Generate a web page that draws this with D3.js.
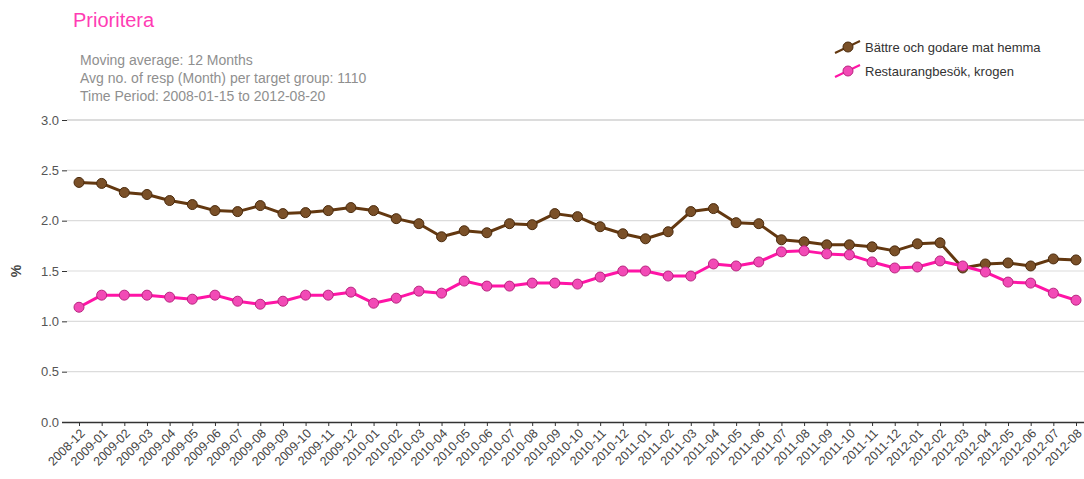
<!DOCTYPE html>
<html><head><meta charset="utf-8">
<script src="https://cdn.jsdelivr.net/npm/d3@7"></script>
<style>
html,body{margin:0;padding:0;background:#fff;}
svg{display:block;font-family:"Liberation Sans",Arial,sans-serif;}
</style></head><body>
<svg id="chart" width="1084" height="479"></svg>
<script>
const months = ["2008-12","2009-01","2009-02","2009-03","2009-04","2009-05","2009-06","2009-07","2009-08","2009-09","2009-10","2009-11","2009-12","2010-01","2010-02","2010-03","2010-04","2010-05","2010-06","2010-07","2010-08","2010-09","2010-10","2010-11","2010-12","2011-01","2011-02","2011-03","2011-04","2011-05","2011-06","2011-07","2011-08","2011-09","2011-10","2011-11","2011-12","2012-01","2012-02","2012-03","2012-04","2012-05","2012-06","2012-07","2012-08"];
const seriesNames = ["Bättre och godare mat hemma","Restaurangbesök, krogen"];
const brownValues = [2.38,2.37,2.28,2.26,2.20,2.16,2.10,2.09,2.15,2.07,2.08,2.10,2.13,2.10,2.02,1.97,1.84,1.90,1.88,1.97,1.96,2.07,2.04,1.94,1.87,1.82,1.89,2.09,2.12,1.98,1.97,1.81,1.79,1.76,1.76,1.74,1.70,1.77,1.78,1.53,1.57,1.58,1.55,1.62,1.61];
const pinkValues = [1.14,1.26,1.26,1.26,1.24,1.22,1.26,1.20,1.17,1.20,1.26,1.26,1.29,1.18,1.23,1.30,1.28,1.40,1.35,1.35,1.38,1.38,1.37,1.44,1.50,1.50,1.45,1.45,1.57,1.55,1.59,1.69,1.70,1.67,1.66,1.59,1.53,1.54,1.60,1.55,1.49,1.39,1.38,1.28,1.21];
const yTicks = [0,0.5,1.0,1.5,2.0,2.5,3.0];
const titleText = "Prioritera";
const subtitleLines = ["Moving average: 12 Months","Avg no. of resp (Month) per target group: 1110","Time Period: 2008-01-15 to 2012-08-20"];
const yLabel = "%";

const svg = d3.select("#chart");
const plotLeft = 67, plotRight = 1084;
const x = d3.scalePoint().domain(months).range([79, 1076]);
const y = d3.scaleLinear().domain([0,3]).range([422, 120]);

// title
svg.append("text").attr("x",73).attr("y",27).attr("font-size",20).attr("fill","#ff3cb4").text(titleText);
svg.selectAll("text.sub").data(subtitleLines).enter().append("text")
  .attr("x",80).attr("y",(d,i)=>65+i*18).attr("font-size",14).attr("fill","#8f8f8f").text(d=>d);

// gridlines
svg.append("g").selectAll("line").data(yTicks.filter(d=>d>0)).enter().append("line")
  .attr("x1",plotLeft).attr("x2",plotRight).attr("y1",d=>y(d)).attr("y2",d=>y(d))
  .attr("stroke","#dcdcdc").attr("stroke-width",d=>d===3?2:1.2);

// y axis
const yAxis = svg.append("g").attr("transform",`translate(${plotLeft},0)`)
  .call(d3.axisLeft(y).tickValues(yTicks).tickFormat(d3.format(".1f")).tickSize(5).tickPadding(3));
yAxis.select(".domain").remove();
yAxis.selectAll(".tick line").attr("stroke","#333");
yAxis.selectAll("text").attr("font-size",13).attr("fill","#555").attr("font-family","Liberation Sans, Arial, sans-serif");

svg.append("text").attr("transform","translate(21,271) rotate(-90)").attr("text-anchor","middle")
  .attr("font-size",14).attr("font-weight","bold").attr("fill","#444").text(yLabel);

// x axis
const xAxis = svg.append("g").attr("transform","translate(0,422)")
  .call(d3.axisBottom(x).tickSize(4).tickPadding(2));
xAxis.select(".domain").attr("d",`M62,0.5H${plotRight}`).attr("stroke","#333").attr("stroke-width",1.5);
xAxis.selectAll(".tick line").attr("stroke","#333");
xAxis.selectAll("text").attr("font-size",12.5).attr("fill","#444").attr("font-family","Liberation Sans, Arial, sans-serif")
  .attr("text-anchor","end").attr("x",0).attr("y",0).attr("dy","0.35em")
  .attr("transform","translate(3,9) rotate(-45)");

// series
const series = [
  {name:seriesNames[0], values:brownValues, line:"#633810", fill:"#7a5028", stroke:"#4a2a0c"},
  {name:seriesNames[1], values:pinkValues, line:"#ff14a6", fill:"#f24ab6", stroke:"#b8257f"}
];
const lineGen = d3.line().x((d,i)=>x(months[i])).y(d=>y(d));
series.forEach(s=>{
  const g = svg.append("g");
  g.append("path").attr("d",lineGen(s.values)).attr("fill","none").attr("stroke",s.line).attr("stroke-width",3).attr("stroke-linejoin","round");
  g.selectAll("circle").data(s.values).enter().append("circle")
    .attr("cx",(d,i)=>x(months[i])).attr("cy",d=>y(d)).attr("r",5)
    .attr("fill",s.fill).attr("stroke",s.stroke).attr("stroke-width",1);
});

// legend
const lg = svg.append("g");
series.forEach((s,i)=>{
  const cy = 47 + i*24;
  lg.append("line").attr("x1",835).attr("x2",860).attr("y1",cy+6).attr("y2",cy-6).attr("stroke",s.line).attr("stroke-width",2);
  lg.append("circle").attr("cx",848).attr("cy",cy).attr("r",5).attr("fill",s.fill).attr("stroke",s.stroke);
  lg.append("text").attr("x",865).attr("y",cy+5).attr("font-size",13).attr("fill","#333").text(s.name);
});
</script>
</body></html>
